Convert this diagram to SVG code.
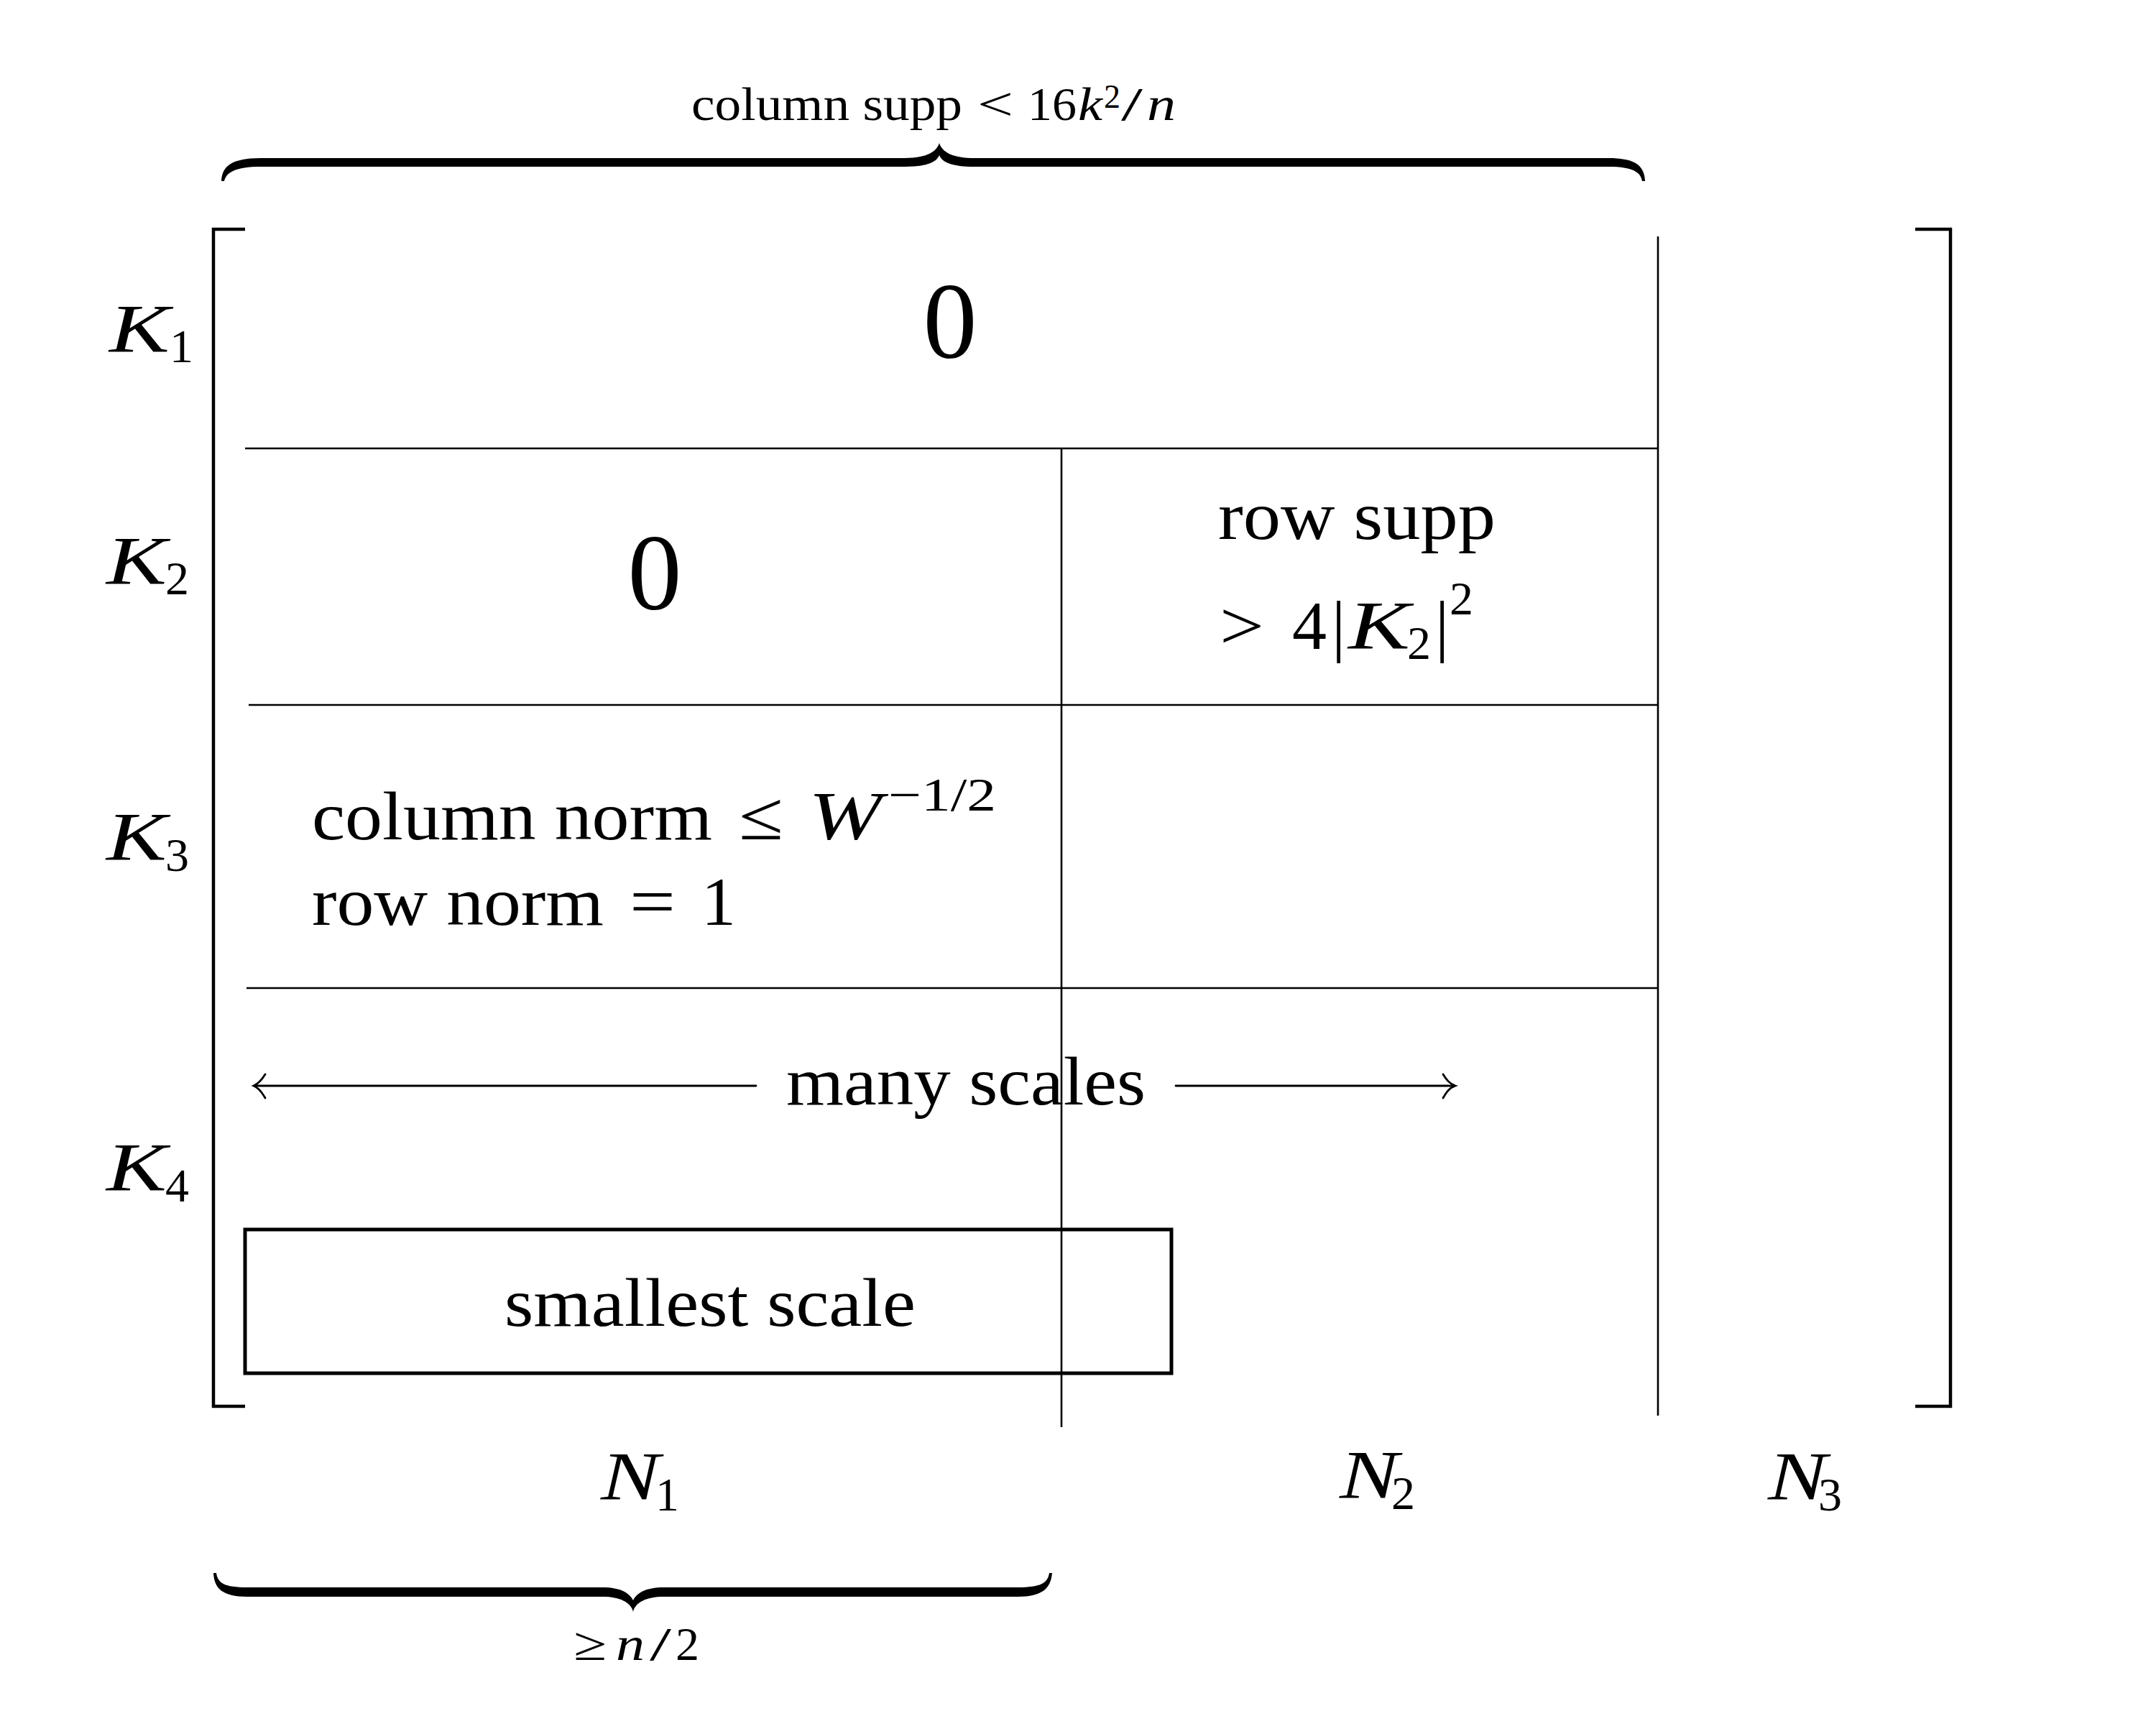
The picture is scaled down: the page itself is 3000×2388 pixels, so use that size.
<svg xmlns="http://www.w3.org/2000/svg" width="3000" height="2388" viewBox="0 0 3000 2388">
<style>
text{font-family:"Liberation Serif","Times New Roman",serif;fill:#000}
.m{font-size:96px}
.s{font-size:66px}
.sub{font-size:66px}
.lbl{font-size:66px}
.it{font-style:italic}
.big{font-size:150px}
.thin{stroke:#000;stroke-width:2.6;fill:none}
.brk{stroke:#000;stroke-width:4.5;fill:none}
.box{stroke:#000;stroke-width:5;fill:none}
.arr{stroke:#000;stroke-width:2.8;fill:none;stroke-linecap:round}
.brace{fill:#000;stroke:none}
</style>
<rect width="3000" height="2388" fill="#fff"/>

<g id="matrix">
  <path class="brk" d="M341,319 H297 V1957 H341"/>
  <path class="brk" d="M2665,319 H2714 V1957 H2665"/>
  <line class="thin" x1="341" y1="624" x2="2307" y2="624"/>
  <line class="thin" x1="346" y1="981" x2="2307" y2="981"/>
  <line class="thin" x1="343" y1="1375" x2="2307" y2="1375"/>
  <line class="thin" x1="1477" y1="624" x2="1477" y2="1986"/>
  <line class="thin" x1="2307" y1="329" x2="2307" y2="1970"/>
</g>

<g id="top-brace">
  <path class="brace" d="M308,252 C309,232 321,220 363,220 L1258,220 C1288,220 1303,212 1307,199 C1311,212 1326,220 1356,220 L2238,220 C2278,220 2288,232 2289,252 L2285,252 C2283,240 2273,232 2238,232 L1356,232 C1325,232 1311,226 1307,216 C1303,226 1289,232 1258,232 L363,232 C327,232 315,240 312,252 Z"/>
  <text class="lbl" x="962" y="167" textLength="377" lengthAdjust="spacingAndGlyphs">column supp</text>
  <text class="lbl" x="1360" y="167" textLength="50" lengthAdjust="spacingAndGlyphs">&lt;</text>
  <text class="lbl" x="1430" y="167" textLength="68" lengthAdjust="spacingAndGlyphs">16</text>
  <text class="lbl it" x="1500" y="167" textLength="34" lengthAdjust="spacingAndGlyphs">k</text>
  <text style="font-size:46px" x="1536" y="150">2</text>
  <text class="lbl" x="1560" y="167" textLength="30" lengthAdjust="spacingAndGlyphs">/</text>
  <text class="lbl it" x="1596" y="167" textLength="40" lengthAdjust="spacingAndGlyphs">n</text>
</g>

<g id="row-labels">
  <g id="K1"><text class="m it" x="152" y="490" textLength="84" lengthAdjust="spacingAndGlyphs">K</text><text class="sub" x="236" y="504">1</text></g>
  <g id="K2"><text class="m it" x="148" y="813" textLength="84" lengthAdjust="spacingAndGlyphs">K</text><text class="sub" x="230" y="827">2</text></g>
  <g id="K3"><text class="m it" x="148" y="1197" textLength="84" lengthAdjust="spacingAndGlyphs">K</text><text class="sub" x="230" y="1212">3</text></g>
  <g id="K4"><text class="m it" x="148" y="1657" textLength="84" lengthAdjust="spacingAndGlyphs">K</text><text class="sub" x="230" y="1672">4</text></g>
</g>

<g id="block-K1">
  <text class="big" x="1322" y="498" text-anchor="middle">0</text>
</g>
<g id="block-K2-N1">
  <text class="big" x="911" y="848" text-anchor="middle">0</text>
</g>
<g id="block-K2-N2">
  <text class="m" x="1695" y="750" textLength="386" lengthAdjust="spacingAndGlyphs">row supp</text>
  <text class="m" x="1697" y="903" textLength="62" lengthAdjust="spacingAndGlyphs">&gt;</text>
  <text class="m" x="1798" y="903">4</text>
  <text class="m" x="1853" y="903">|</text>
  <text class="m it" x="1876" y="903" textLength="86" lengthAdjust="spacingAndGlyphs">K</text>
  <text class="sub" x="1958" y="917">2</text>
  <text class="m" x="1997" y="903">|</text>
  <text class="sub" x="2017" y="855">2</text>
</g>
<g id="block-K3-N1">
  <text class="m" x="434" y="1168" textLength="557" lengthAdjust="spacingAndGlyphs">column norm</text>
  <text class="m" x="1028" y="1168" textLength="62" lengthAdjust="spacingAndGlyphs">≤</text>
  <text class="m it" x="1125" y="1168" textLength="102" lengthAdjust="spacingAndGlyphs">W</text>
  <text class="sub" x="1236" y="1128" textLength="150" lengthAdjust="spacingAndGlyphs">−1/2</text>
  <text class="m" x="434" y="1287" textLength="406" lengthAdjust="spacingAndGlyphs">row norm</text>
  <text class="m" x="876" y="1287" textLength="64" lengthAdjust="spacingAndGlyphs">=</text>
  <text class="m" x="976" y="1287">1</text>
</g>

<g id="connectors">
  <line class="arr" x1="354" y1="1511" x2="1052" y2="1511"/>
  <path class="arr" d="M369,1495 C364,1503 360,1508 353,1511 C360,1514 364,1519 369,1528"/>
  <line class="arr" x1="1636" y1="1511" x2="2024" y2="1511"/>
  <path class="arr" d="M2008,1495 C2013,1503 2017,1508 2025,1511 C2017,1514 2013,1519 2008,1528"/>
</g>
<g id="many-scales">
  <text class="m" x="1094" y="1537" textLength="500" lengthAdjust="spacingAndGlyphs">many scales</text>
</g>

<g id="smallest-scale">
  <rect class="box" x="341" y="1711" width="1289" height="200"/>
  <text class="m" x="702" y="1845" textLength="572" lengthAdjust="spacingAndGlyphs">smallest scale</text>
</g>

<g id="col-labels">
  <g id="N1"><text class="m it" x="836" y="2087" textLength="82" lengthAdjust="spacingAndGlyphs">N</text><text class="sub" x="912" y="2102">1</text></g>
  <g id="N2"><text class="m it" x="1864" y="2085" textLength="82" lengthAdjust="spacingAndGlyphs">N</text><text class="sub" x="1936" y="2100">2</text></g>
  <g id="N3"><text class="m it" x="2460" y="2087" textLength="82" lengthAdjust="spacingAndGlyphs">N</text><text class="sub" x="2530" y="2102">3</text></g>
</g>

<g id="bottom-brace">
  <path class="brace" d="M297,2189 C298,2210 309,2222 344,2222 L838,2222 C863,2222 878,2230 881,2243 C884,2230 899,2222 924,2222 L1416,2222 C1451,2222 1462,2210 1464,2189 L1460,2189 C1458,2203 1448,2209 1416,2209 L924,2209 C898,2209 886,2217 881,2227 C876,2217 864,2209 838,2209 L344,2209 C312,2209 303,2203 301,2189 Z"/>
  <text class="lbl" x="798" y="2310" textLength="46" lengthAdjust="spacingAndGlyphs">≥</text>
  <text class="lbl it" x="857" y="2310" textLength="40" lengthAdjust="spacingAndGlyphs">n</text>
  <text class="lbl" x="904" y="2310" textLength="30" lengthAdjust="spacingAndGlyphs">/</text>
  <text class="lbl" x="940" y="2310">2</text>
</g>
</svg>
